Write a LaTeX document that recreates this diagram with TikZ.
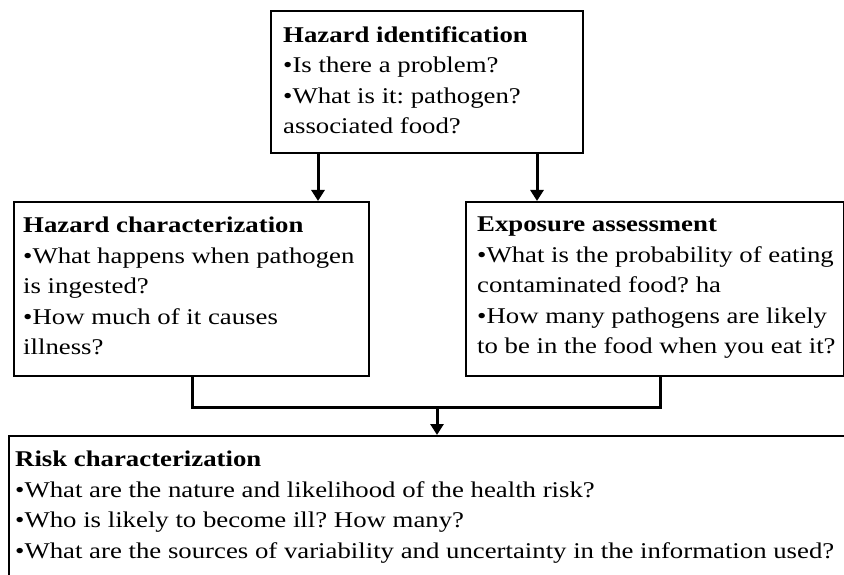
\documentclass[tikz,border=0pt]{standalone}
\usepackage{fontspec}
\setmainfont[FakeStretch=1.19]{Liberation Serif}
\usetikzlibrary{arrows.meta}
\frenchspacing
\begin{document}
\begin{tikzpicture}[x=1pt,y=-1pt,
 box/.style={draw=black,line width=2.4pt,fill=white,anchor=north west,inner sep=0pt},
 txt/.style={anchor=north west,inner sep=0pt,align=left,font=\fontsize{22.5}{30.5}\selectfont\frenchspacing},
 conn/.style={line width=3pt},
 arr/.style={conn,-{Triangle[length=11pt,width=13pt]}}]
\useasboundingbox[fill=white] (0,0) rectangle (844,575);
\clip (0,0) rectangle (844,575);
\node[box,minimum width=312pt,minimum height=142pt] (hi) at (270,10) {};
\node[box,minimum width=355pt,minimum height=174pt] (hc) at (13,201) {};
\node[box,minimum width=378pt,minimum height=174pt] (ea) at (465,201) {};
\node[box,minimum width=850pt,minimum height=160pt] (rc) at (8,435) {};
\node[txt] (thi) at (283,26) {\textbf{Hazard identification}\\•Is there a problem?\\•What is it: pathogen?\\associated food?};
\node[txt] (thc) at (23,217) {\textbf{Hazard characterization}\\•What happens when pathogen\\is ingested?\\•How much of it causes\\illness?};
\node[txt] (tea) at (477,217) {\textbf{Exposure assessment}\\•What is the probability of eating\\contaminated food? ha\\•How many pathogens are likely\\to be in the food when you eat it?};
\node[txt] (trc) at (15,451) {\textbf{Risk characterization}\\•What are the nature and likelihood of the health risk?\\•Who is likely to become ill? How many?\\•What are the sources of variability and uncertainty in the information used?};
\draw[arr] ([xshift=48pt]hi.south west) -- ([xshift=48pt]hi.south west |- hc.north);
\draw[arr] ([xshift=267pt]hi.south west) -- ([xshift=267pt]hi.south west |- ea.north);
\coordinate (m) at (437,407);
\draw[conn] ([xshift=179pt]hc.south west) |- (m) -| ([xshift=195pt]ea.south west);
\draw[arr] (m) -- (m |- rc.north);
\end{tikzpicture}
\end{document}
